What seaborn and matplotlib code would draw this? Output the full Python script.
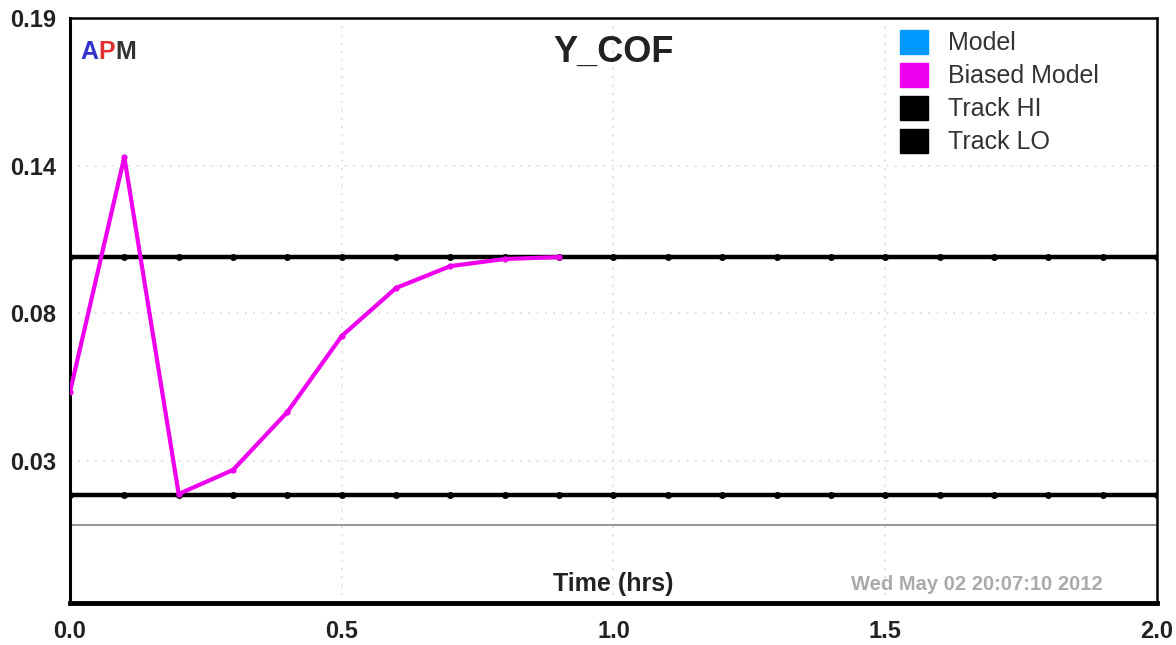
import matplotlib
matplotlib.use('Agg')
import matplotlib.pyplot as plt
from matplotlib.patches import Patch
import seaborn as sns
import pandas as pd
import numpy as np

# data
time_hrs = [0.0, 0.1, 0.2, 0.3, 0.4, 0.5, 0.6, 0.7, 0.8, 0.9]
biased_model = [0.0531, 0.1391, 0.0158, 0.0246, 0.0458, 0.0736, 0.0912, 0.0992, 0.1018, 0.1025]
track_time = [round(0.1 * i, 1) for i in range(21)]
track_hi = [0.1025] * 21
track_lo = [0.0155] * 21
ref_line = 0.0044
y_ticks = [0.19, 0.136, 0.082, 0.028]

sns.set_style('white')
plt.rcParams['font.family'] = ['Liberation Sans', 'DejaVu Sans']

fig = plt.figure(figsize=(11.76, 6.45), dpi=100)
ax = fig.add_axes([0.0595, 0.0651, 0.9243, 0.9070])

ax.axhline(ref_line, color='#999999', lw=1.5, zorder=1)

tracks = pd.DataFrame({'t': track_time, 'hi': track_hi, 'lo': track_lo})
for col in ['hi', 'lo']:
    sns.lineplot(data=tracks, x='t', y=col, ax=ax, color='black', lw=3.2,
                 marker='o', markersize=5, markeredgewidth=0, zorder=3)

bm = pd.DataFrame({'t': time_hrs, 'v': biased_model})
sns.lineplot(data=bm, x='t', y='v', ax=ax, color='#ee00ee', lw=3,
             marker='o', markersize=4.5, markeredgewidth=0, zorder=4)

ax.set_xlim(0, 2.0)
ax.set_ylim(-0.0241, 0.19)
ax.set_xticks([0.0, 0.5, 1.0, 1.5, 2.0])
ax.set_xticklabels(['0.0', '0.5', '1.0', '1.5', '2.0'])
ax.set_yticks(y_ticks)
ax.set_yticklabels(['%.2f' % v for v in y_ticks])
ax.tick_params(axis='both', labelsize=17, colors='#222222', direction='in',
               length=5, width=1.2)
ax.tick_params(axis='y', length=0, pad=10)
ax.tick_params(axis='x', pad=12)
for lab in ax.get_xticklabels() + ax.get_yticklabels():
    lab.set_fontweight('bold')
ax.grid(True, linestyle=(0, (1, 4)), color='#d8d8d8', lw=1.2)
ax.set_xlabel('')
ax.set_ylabel('')

for side, w in [('left', 2.2), ('right', 1.8), ('top', 1.8), ('bottom', 3.5)]:
    ax.spines[side].set_visible(True)
    ax.spines[side].set_color('black')
    ax.spines[side].set_linewidth(w)

ax.text(0.50, 0.972, 'Y_COF', transform=ax.transAxes, ha='center', va='top',
        fontsize=26, fontweight='bold', color='#222222')
ax.text(0.50, 0.012, 'Time (hrs)', transform=ax.transAxes, ha='center',
        va='bottom', fontsize=18, fontweight='bold', color='#222222')
ax.text(0.95, 0.015, 'Wed May 02 20:07:10 2012', transform=ax.transAxes,
        ha='right', va='bottom', fontsize=14.5, fontweight='bold', color='#aaaaaa')

# APM logo
for s, c, dx in [('A', '#3333cc', 0.0), ('P', '#e03030', 0.0165), ('M', '#333333', 0.032)]:
    ax.text(0.0095 + dx, 0.962, s, transform=ax.transAxes, ha='left', va='top',
            fontsize=18, fontweight='bold', color=c)

handles = [Patch(color='#0099ff', label='Model'),
           Patch(color='#ee00ee', label='Biased Model'),
           Patch(color='black', label='Track HI'),
           Patch(color='black', label='Track LO')]
leg = ax.legend(handles=handles, loc='upper left', bbox_to_anchor=(0.764, 0.98),
                frameon=False, fontsize=18, handlelength=1.1, handleheight=1.1,
                labelspacing=0.3, handletextpad=0.8, borderpad=0, borderaxespad=0)
for t in leg.get_texts():
    t.set_color('#333333')

fig.savefig('out.png', dpi=100)
